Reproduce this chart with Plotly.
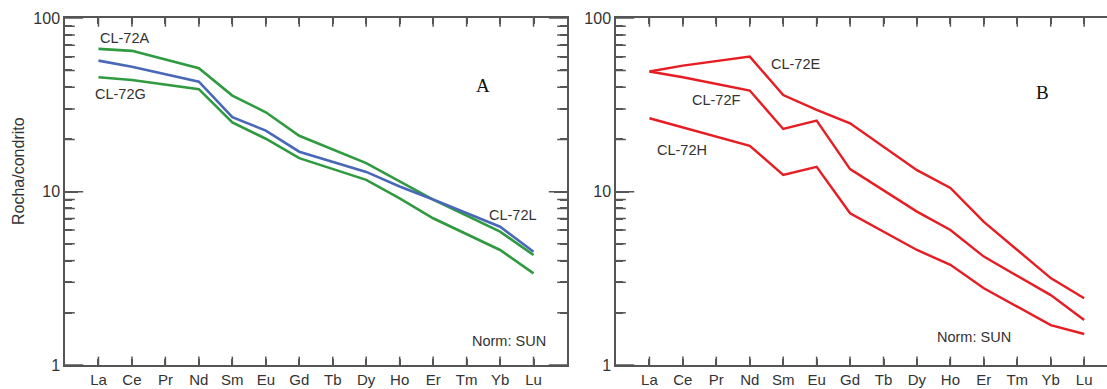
import plotly.graph_objects as go

W, H = 1107, 389

elements = ["La", "Ce", "Pr", "Nd", "Sm", "Eu", "Gd", "Tb", "Dy", "Ho", "Er", "Tm", "Yb", "Lu"]
xpos = list(range(1, len(elements) + 1))
y_major = [1, 10, 100]
y_minor = [2, 3, 4, 5, 6, 7, 8, 9, 20, 30, 40, 50, 60, 70, 80, 90]

# Panel A
cl72a = [66.6, 64.9, None, 51.5, 35.8, 28.7, 21.0, None, 14.6, 11.4, 9.0, None, 5.88, 4.31]
cl72l = [57.0, 52.6, None, 43.1, 26.9, 22.5, 17.0, None, 13.0, 10.7, 9.0, None, 6.28, 4.50]
cl72g = [45.7, 44.1, None, 39.0, 25.1, 20.2, 15.6, None, 11.7, 9.16, 7.02, None, 4.61, 3.38]

# Panel B
cl72e = [49.3, 53.3, None, 60.1, 36.1, 29.6, 24.8, None, 13.3, 10.5, 6.7, None, 3.17, 2.43]
cl72f = [49.3, 45.7, None, 38.3, 23.0, 25.7, 13.5, None, 7.67, 6.01, 4.22, None, 2.53, 1.82]
cl72h = [26.5, 23.5, None, 18.4, 12.5, 13.9, 7.5, None, 4.61, 3.78, 2.77, None, 1.70, 1.51]

GREEN = "#2f9a3f"
BLUE = "#4a68b8"
RED = "#e61e24"
AX = "#555555"
TXT = "#333333"
FONT = "Liberation Sans, Arial, sans-serif"
TW = 1.5

def px(x):
    return x / W

def py(y):
    return 1 - y / H

TOP, BOT = 18.3, 365
A_L, A_R = 65, 567
B_L = 616
ydom = [py(BOT), py(TOP)]
A_XMAX = 15
B_XMAX = (W - B_L) / 33.44

fig = go.Figure()

# inside tick marks as clipped line markers placed on the axes' own scales
def tick_marks(xa, ya, xmax, right_side):
    n = len(xpos)
    tm = dict(mode="markers", xaxis=xa, yaxis=ya, showlegend=False, hoverinfo="skip",
              cliponaxis=True)
    for yedge in (1, 100):
        fig.add_trace(go.Scatter(x=xpos, y=[yedge] * n,
                                 marker=dict(symbol="line-ns", size=12,
                                             line=dict(color=AX, width=TW)), **tm))
    xedges = [0] + ([xmax] if right_side else [])
    for xedge in xedges:
        for vals, size in [(y_major, 26), (y_minor, 14)]:
            fig.add_trace(go.Scatter(x=[xedge] * len(vals), y=vals,
                                     marker=dict(symbol="line-ew", size=size,
                                                 line=dict(color=AX, width=TW)), **tm))

tick_marks("x", "y", A_XMAX, True)
tick_marks("x2", "y2", B_XMAX, False)

for ys, c in [(cl72a, GREEN), (cl72g, GREEN), (cl72l, BLUE)]:
    fig.add_trace(go.Scatter(x=xpos, y=ys, mode="lines", connectgaps=True,
                             line=dict(color=c, width=2.6), xaxis="x", yaxis="y",
                             showlegend=False))
for ys in [cl72e, cl72f, cl72h]:
    fig.add_trace(go.Scatter(x=xpos, y=ys, mode="lines", connectgaps=True,
                             line=dict(color=RED, width=2.4), xaxis="x2", yaxis="y2",
                             showlegend=False))

fig.update_layout(
    width=W, height=H,
    margin=dict(l=0, r=0, t=0, b=0),
    paper_bgcolor="white", plot_bgcolor="white",
    xaxis=dict(domain=[px(A_L), px(A_R)], range=[0, A_XMAX], anchor="y", mirror="ticks"),
    yaxis=dict(domain=ydom, anchor="x", type="log", range=[0, 2], mirror="ticks"),
    xaxis2=dict(domain=[px(B_L), 1.0], range=[0, B_XMAX], anchor="y2", mirror="ticks"),
    yaxis2=dict(domain=ydom, anchor="x2", type="log", range=[0, 2], mirror=False),
)
fig.update_xaxes(tickmode="array", tickvals=xpos, ticktext=elements,
                 ticks="inside", ticklen=6, tickwidth=TW, tickcolor=AX,
                 showline=True, linecolor=AX, linewidth=1.5,
                 showgrid=False, zeroline=False, automargin=False,
                 tickfont=dict(family=FONT, size=15, color=TXT))
fig.update_yaxes(tickmode="array", tickvals=y_major, ticktext=[str(v) for v in y_major],
                 ticks="inside", ticklen=13, tickwidth=TW, tickcolor=AX,
                 minor=dict(tickmode="array", tickvals=y_minor, ticks="inside", ticklen=7,
                            tickwidth=TW, tickcolor=AX, showgrid=False),
                 showline=True, linecolor=AX, linewidth=1.5,
                 showgrid=False, zeroline=False, automargin=False,
                 tickfont=dict(family=FONT, size=16, color=TXT))

def label(text, x, y, size=14.5, family=FONT, angle=0, color=TXT):
    fig.add_annotation(text=text, x=px(x), y=py(y), xref="paper", yref="paper",
                       showarrow=False, textangle=angle, xanchor="center", yanchor="middle",
                       font=dict(family=family, size=size, color=color))

label("Rocha/condrito", 18, 171, size=16, angle=-90)
label("CL-72A", 124, 38)
label("CL-72G", 121, 94)
label("CL-72L", 513, 215)
label("Norm: SUN", 509, 341)
label("A", 483, 85, size=19, family="Liberation Serif, Times New Roman, serif", color="#111111")
label("CL-72E", 795, 64)
label("CL-72F", 716, 100)
label("CL-72H", 682, 150)
label("Norm: SUN", 974, 337)
label("B", 1042, 92, size=19, family="Liberation Serif, Times New Roman, serif", color="#111111")

fig.write_html("out.html")
